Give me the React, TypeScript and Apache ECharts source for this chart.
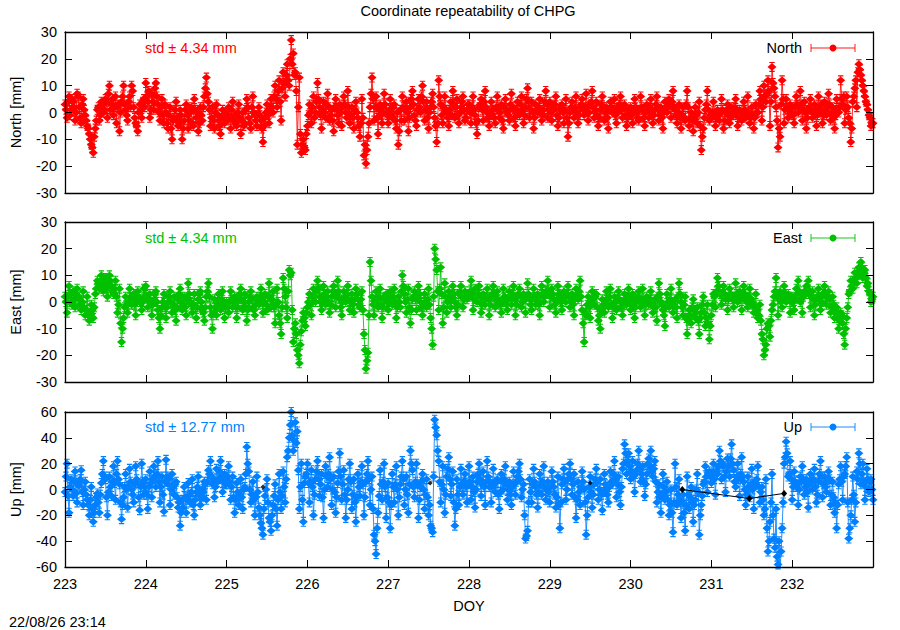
import React, { useEffect, useRef } from "react";
import * as echarts from "echarts";

// Sampling grid of the series (day of year). A-arrays sit on DOY_START + i*STEP,
// B-arrays on the half steps in between.
const DOY_START = 223;
const DOY_STEP = 0.025;
const X_MIN = 223;
const X_MAX = 233;

const TITLE = "Coordinate repeatability of CHPG";
const TIMESTAMP = "22/08/26 23:14";
const PANEL_NAMES = ["North", "East", "Up"];
const Y_NAMES = ["North [mm]", "East [mm]", "Up [mm]"];
const STD_TEXTS = ["std \u00b1 4.34 mm", "std \u00b1 4.34 mm", "std \u00b1 12.77 mm"];
const Y_RANGES = [
  [-30, 30, 10],
  [-30, 30, 10],
  [-60, 60, 20],
];

// North [mm]
const NORTH_A: number[] = [
  3, -2, 6, 1, 4, -3, 7, 2, -4, 5, -1, -5, -8, -12, -15, -6, 1, -3, 4, 0,
  5, -2, 10, 3, -1, 6, 2, -7, 4, 10, 1, -3, 6, 10, 2, -4, -7, 3, -2, 5,
  11, 4, -2, 7, 1, 11, 3, -3, 5, -4, 0, -6, 2, -10, -2, 4, -5, 1, -10, -3,
  3, -6, 0, -4, 5, -2, -7, 2, -3, 6, 13, 4, -5, 2, -6, 3, -3, -8, 1, -4,
  -3, 2, -6, 4, -1, -5, 3, -8, 0, -4, 5, -2, -6, 6, -1, -5, 2, -3, -11, -2,
  3, -4, 5, 0, 10, 2, 12, -3, 15, 6, 18, 10, 27, 22, 15, -12, 13, -15, -10, -14,
  -5, 3, -4, 6, 0, 11, 2, -6, 4, -2, 7, -3, 1, -7, 5, -1, 3, -5, 6, 0,
  8, -4, 2, -6, 4, -2, -9, 5, -16, -19, -9, 2, 13, -3, 6, -8, 3, -4, 7, 0,
  -4, 5, -2, 3, -6, -12, 1, 6, -3, 4, -7, 2, 8, -1, -5, 5, 0, 10, -3, 4,
  -6, 2, 7, -2, -11, 12, 3, -4, 6, 0, -5, 4, 8, -2, 5, -4, 2, 6, -3, 1,
  3, -4, 6, -1, -8, 2, 5, -3, 8, 0, -5, 4, 1, -4, 6, -2, 3, -6, 5, 0,
  -3, 7, 1, -5, 4, -1, 6, -4, 2, 9, -2, 4, -6, 3, 0, 5, -3, 1, 8, -2,
  4, -3, 2, 6, -5, 1, 3, -4, 5, -9, 0, 4, -2, 6, -4, 2, 5, -1, 7, -3,
  3, 8, -2, 4, -5, 1, 6, -3, 2, -6, 4, 0, 5, -4, 2, 6, -2, 3, -5, 1,
  2, -4, 5, 0, -3, 6, 1, -5, 3, -2, 5, -4, 1, 6, -3, 2, -6, 4, 0, 5,
  -2, 8, 1, -4, 3, -6, 2, -3, 8, -5, 0, -7, 2, -4, 4, -14, -6, 1, 8, -3,
  -2, 4, -5, 1, -3, 5, -6, 0, 3, -4, 2, -1, 5, -5, 1, -3, 4, -2, 6, -4,
  2, -6, 3, 0, 8, -3, 10, 4, 12, -5, 17, 9, 2, -13, -9, 12, -4, 5, -2, 3,
  2, -4, 6, 0, 8, -3, 4, -6, 1, 5, -2, 3, -5, 6, 0, -4, 4, -1, 7, -3,
  2, -6, 5, 0, 12, 3, -4, 6, -2, -11, 4, 9, 2, 18, 14, 10, 6, 3, -1, -5,
  -4,
];
const NORTH_B: number[] = [
  1, 4, -1, 5, 2, 0, 6, -2, 3, 1, -3, -6, -10, -13, -9, -3, 2, -1, 3, 1,
  4, 7, 1, 5, 2, -4, 3, 0, 6, 3, -1, 4, 2, 8, -2, -5, 0, 1, 4, 2,
  6, 8, 1, 4, 9, 6, 0, 2, -1, 3, -4, -1, -6, -3, 1, -2, -4, -1, -6, 1,
  -1, -3, 2, -5, 1, 0, -4, -1, 2, 9, 7, 1, -2, -3, 0, -1, -5, -2, -1, 0,
  -1, -2, 1, -3, -4, 0, -2, -3, -5, 1, 2, -4, 2, 0, -3, -1, -1, -6, -5, 0,
  -1, 1, 2, 6, 5, 8, 4, 9, 11, 14, 12, 20, 18, 14, 8, 2, -8, -12, -13, -8,
  -1, 0, 2, -2, 4, 5, -1, 1, 0, 3, 2, -1, -3, 2, 1, -4, 0, 2, 3, -2,
  2, -1, -2, 1, 0, -5, -4, -2, -12, -14, -4, 7, 5, 2, -2, 1, -1, 2, 3, -1,
  1, -1, 2, -3, 0, -7, -3, 2, 1, 0, -2, 5, 3, -3, 1, 2, 6, 4, 1, -2,
  0, 4, 2, -5, -4, 6, -1, 2, 1, -2, 1, -1, 3, 2, -1, 0, 4, 1, -2, 3,
  0, 2, 1, -4, -3, 3, 1, 4, 2, -2, -1, 1, -2, 2, 1, 0, -3, 2, 1, -1,
  3, 2, -2, 1, 0, 3, 1, -1, 5, 4, 1, 0, -2, 1, 2, 0, -1, 4, 3, 1,
  0, 1, 3, -1, -2, 2, 0, 1, -2, -4, 2, 1, 2, 0, -1, 3, 1, 2, 2, 0,
  4, 2, 1, -1, -2, 3, 2, 0, -2, 1, 2, 1, -1, 0, 3, 1, 2, -1, -2, 0,
  -1, 1, 2, -2, 1, 2, -2, 0, 1, 2, 0, -1, 3, 1, -1, -2, 0, 1, 2, 3,
  4, 2, -1, 0, -2, -1, -2, 3, 2, -2, -3, -2, -1, 0, -5, -9, -2, 3, 1, -1,
  0, -1, -2, -1, 0, 1, -3, 1, -1, -2, 0, 2, 0, -2, -2, 0, 1, -1, 0, -2,
  -1, -2, 0, 3, 5, 2, 6, 7, 8, 4, 11, 6, -3, -6, 3, 5, 1, 2, 1, 0,
  -1, 2, 3, 2, 3, 1, 0, -2, 2, 1, 0, 1, -1, 2, 3, -1, 1, 2, 3, 0,
  -2, -1, 1, 2, 5, 6, 1, 2, -4, -6, 6, 12, 15, 16, 12, 8, 4, 1, -2, -4,
];

// East [mm]
const EAST_A: number[] = [
  2, -4, 6, 0, 4, -2, 5, 1, -3, 4, -5, 2, -7, -1, -6, 3, 8, 5, 10, 4,
  9, 2, 10, 6, 3, 8, -4, 5, -15, -6, 2, -4, 5, -1, 3, -5, 4, 0, -3, 5,
  6, -2, 3, -5, 1, 4, -3, -10, -2, 3, -6, 0, 4, -4, 2, -7, 1, 5, -3, 2,
  -5, 7, 0, -4, 3, -6, 1, 4, -3, -7, 2, 7, -2, -10, 1, -5, 3, -3, 4, -6,
  0, -4, 4, -2, 2, -6, 1, 5, -3, 3, -7, 0, 4, -2, -5, 2, -1, 5, -4, 3,
  -3, 7, -2, 4, -8, 5, -5, -12, 9, 2, -6, 12, 11, -15, -8, -18, -23, -11, -4, -9,
  -2, 3, -5, 5, 0, 8, 2, -3, 6, -1, 4, -4, 2, 6, -2, 8, 1, -5, 4, 0,
  6, -3, 3, -4, 5, 1, -2, 4, -12, -25, -19, 15, 2, -5, 4, -2, 5, -6, 1, 3,
  -3, 4, -1, 5, -6, 2, -2, 10, 3, -4, 5, -8, 1, 4, -3, 6, 0, -5, 3, -2,
  5, -6, -16, 20, 12, -3, 13, -8, 7, -4, 4, -2, 6, 0, -5, 3, 6, -2, 4, 1,
  2, 8, -3, 5, 0, 6, -4, 3, -1, 5, -5, 2, 6, -2, 4, 0, -4, 5, 1, -3,
  4, -1, 6, -5, 2, 5, -2, 3, -4, 7, 1, -3, 5, -1, 3, -5, 6, 0, 4, 8,
  -2, 5, 1, -4, 6, 2, -3, 4, 0, 6, -2, 3, -5, 5, 1, 8, -3, -15, -5, 2,
  -6, 4, -1, 3, -7, -10, 1, -4, 4, -2, 5, -6, 2, -3, 4, 0, -5, 3, -1, 5,
  -3, 3, -6, 1, 4, -2, 5, -5, 2, -1, 4, -4, 1, -7, 7, 0, -3, -9, 3, -2,
  5, -4, 1, -6, 7, 0, -5, 2, -12, -3, -8, 1, -6, -2, -12, -4, 2, -9, -1, -14,
  -5, 3, -2, 9, 4, -1, 6, 1, -3, 5, 2, -2, 7, 0, 4, -3, 6, 1, -2, 5,
  0, -4, 3, -6, -1, -12, -20, -16, -8, -13, -3, 2, 9, -5, 4, -2, 6, 0, 3, -4,
  2, -3, 5, 8, 0, -4, 3, 6, 8, -2, 4, -5, 1, 5, -3, 3, 6, -1, 4, -4,
  2, -6, -2, -10, -4, -8, -16, -6, 3, 8, 5, 11, 7, 13, 15, 9, 12, 6, 4, 0,
  2,
];
const EAST_B: number[] = [
  0, 2, 3, -1, 1, 3, 2, -1, 0, -2, -3, -5, -4, -3, -2, 5, 7, 8, 6, 7,
  5, 7, 8, 4, 5, 2, -1, -8, -10, -2, -1, 0, 2, 1, -1, 1, 2, 1, 0, 2,
  2, 1, 0, -1, 3, 0, -6, -5, 0, -2, -2, 2, 0, -1, -3, -2, 3, 0, -1, -2,
  1, 3, -1, -1, -2, -2, 3, 0, -4, -2, 4, 2, -5, -4, -2, 0, 0, 1, -1, -2,
  -2, 0, 1, 0, -2, -2, 3, 1, 0, -2, -3, 2, 1, -3, -1, 0, 2, 1, 0, -1,
  2, 2, 1, -2, -1, 0, -8, -2, 5, -2, 4, 10, -3, -10, -12, -20, -16, -7, -6, -4,
  0, -1, 0, 2, 4, 5, 0, 1, 3, 2, 0, -1, 4, 2, 3, 4, -2, 0, 2, 3,
  1, 0, -1, 1, 3, -1, 1, -3, -18, -22, -5, 8, -1, 0, 1, 2, -1, -2, 2, 0,
  0, 1, 2, 0, -2, 0, 4, 6, 0, 1, -2, -3, 2, 1, 2, 3, -2, -1, 0, 1,
  -1, -10, 2, 16, 4, 5, 3, -2, 2, 0, 1, 2, 3, -2, -1, 4, 2, 1, 2, 3,
  4, 3, 1, 2, 3, 2, -1, 1, 2, 1, -1, 3, 2, 1, 1, -1, 0, 2, -1, 1,
  2, 3, 1, -1, 3, 2, 0, 1, 2, 3, -1, 1, 2, 1, -1, 2, 3, 2, 4, 3,
  2, 3, -1, 1, 3, 0, 1, 2, 3, 2, 0, -1, 1, 2, 4, 2, -8, -4, -1, -2,
  0, 1, 2, -2, -5, -3, -1, 0, 1, 2, -1, -2, 0, 1, 1, -2, -1, 1, 2, 0,
  0, -1, -2, 2, 0, 1, 0, -1, 0, 1, 0, -2, -2, 2, 3, -1, -5, -2, 0, 1,
  0, -1, -2, 2, 3, -2, -1, -6, -7, -5, -2, -3, -4, -7, -6, -1, -4, -6, -8, -9,
  -1, 2, 4, 6, 3, 2, 3, 2, 1, 3, 1, 2, 3, 2, 1, 2, 3, 0, 2, 1,
  -1, -2, -3, -5, -7, -14, -18, -10, -9, -7, -1, 4, 3, 1, 0, 2, 3, 1, 2, 0,
  0, 1, 3, 4, 1, 2, 4, 5, 3, 2, 1, -1, 2, 1, 0, 3, 2, 2, 1, -2,
  -1, -3, -6, -7, -5, -12, -10, -2, 4, 6, 8, 9, 10, 12, 13, 11, 9, 7, 3, 1,
];

// Up [mm]
const UP_A: number[] = [
  -2, 20, -18, 8, -5, 14, -10, 3, 15, -12, 6, -8, -20, 2, -25, -12, -3, -18, 5, 22,
  8, -20, 10, -5, 18, -8, 22, 4, -23, -6, 12, -14, 16, 0, -10, 18, 5, -16, 20, -4,
  8, -15, 14, -6, 18, 2, 22, -10, 10, -17, 23, 4, -12, 12, -4, 6, -14, -28, -8, 2,
  -18, 5, -10, 8, -20, -2, 10, -12, 0, 6, -8, 15, 22, 4, -6, 16, 8, 22, -2, 12,
  4, 18, -8, 10, -18, 5, -12, 8, -15, 2, 33, 14, -10, 6, -20, 10, -14, -26, -35, -5,
  8, -22, -32, -12, 4, -28, 12, -15, 14, -10, 25, 40, 60, 30, 52, 45, -15, 20, -25, 10,
  20, -10, 15, -20, 8, 22, -5, 12, -22, 18, 2, 25, -12, 10, -18, 5, 28, -8, 15, -22,
  0, 20, -15, 8, -25, 12, -5, 18, -20, 6, 22, -12, 10, -35, -50, -18, 15, -8, 20, -22,
  5, -30, 12, -10, 18, -20, 4, 22, -12, 10, -18, 30, 15, -6, 20, -22, 2, 12, -15, 8,
  -20, -28, -33, 54, 42, 22, -10, 18, -18, 10, 25, -5, 14, -28, 8, -12, 16, -4, 12, -10,
  18, -8, 10, -14, 6, 20, -5, 14, -12, 22, 2, -10, 16, -2, 8, -15, 12, 0, 18, -8,
  6, -12, 14, -4, 10, 20, -6, 4, -38, -32, 8, -10, 16, 2, -14, 12, -4, 18, -8, 6,
  -10, 14, 2, -14, 10, -30, 4, 16, -8, 8, 20, -4, 12, -22, 6, -12, 14, 0, -35, -6,
  10, -14, 4, 16, -8, 8, -16, 12, 0, -10, 14, 4, 22, -6, 10, -12, 16, 35, 12, 28,
  8, 22, -2, 15, 30, 6, 18, -5, 12, 24, 30, 10, 22, -10, 4, -18, 12, -8, 6, -20,
  0, -33, 20, -12, 8, -22, -4, -32, 10, -15, 2, -25, -8, 12, -35, -12, 4, 18, -2, 14,
  5, 20, -4, 12, 30, 8, 18, -2, 24, 10, 35, 15, 2, 20, -5, 25, 6, -12, 10, -6,
  16, -15, 4, 18, -10, 2, -20, 8, -48, -25, 12, -38, -15, -58, -64, -30, 20, 37, 10, 22,
  -8, 14, 2, -12, 10, 18, -4, 8, -14, 12, 0, 16, -10, 6, 22, -6, 10, -2, 14, -12,
  6, -18, -30, 4, 18, -8, 12, 25, -38, -20, 10, -25, 14, 28, 4, 20, -8, 16, -2, 8,
  -8,
];
const UP_B: number[] = [
  10, -5, 2, 0, 6, -3, 5, 8, -2, 0, -4, -12, -8, -15, -18, -6, -10, -4, 12, 10,
  -6, -2, 2, 6, 5, 12, 8, -10, -12, 2, 0, 3, 6, -4, 4, 8, -6, 2, 6, 2,
  -4, 2, 5, 8, 10, 12, 6, 2, -4, 6, 10, 8, 0, 2, 4, -6, -10, -18, -14, -6,
  -8, -4, -2, -12, -8, 2, -4, -6, -2, 4, 6, 12, 10, 8, 2, 6, 14, 10, 6, 4,
  10, 6, 2, -6, -8, -2, -4, -6, 0, 12, 20, 0, -4, -8, -6, -2, -20, -30, -15, 0,
  -10, -25, -20, -5, -15, -8, -2, -5, 2, 8, 30, 50, 42, 38, 36, 15, 2, -8, 5, 12,
  5, 6, 2, -4, 14, 8, 4, -6, 0, 10, 12, 8, 0, -2, -6, 14, 10, 4, -4, -8,
  8, 6, -4, -10, -6, 2, 6, 4, -6, 12, 8, 0, -15, -40, -30, -5, 4, 6, 2, -6,
  -10, -12, 2, 4, 0, -6, 10, 8, 0, -4, 4, 20, 2, 6, 4, -8, 6, 0, -4, -6,
  -12, -30, 10, 48, 30, 6, 4, 0, -4, 16, 8, 4, -10, -15, -4, 2, 4, 6, 2, 4,
  6, 2, -2, 0, 12, 8, 4, 2, 6, 10, 6, 2, 4, 6, -4, -2, 6, 8, 4, 0,
  -4, 2, 4, 6, 14, 8, 0, -20, -36, -10, -2, 4, 6, -4, -2, 4, 6, 2, 0, -2,
  2, 6, -4, -6, -12, -10, 8, 6, 0, 12, 8, 4, -6, -8, -2, 2, 6, -10, -20, 2,
  -2, -4, 8, 6, 0, -4, -2, 4, -4, 2, 6, 12, 8, 4, -2, 2, 20, 28, 22, 18,
  14, 10, 12, 20, 16, 12, 6, 4, 20, 18, 14, 16, 6, -2, -6, -4, 2, -2, -8, -12,
  -18, -10, 2, -4, -8, -10, -18, -12, -4, -6, -10, -12, 0, -2, -20, -5, 6, 10, 12, 10,
  12, 8, 14, 18, 22, 20, 10, 14, 18, 24, 20, 6, 10, 8, 12, 10, 0, -4, 2, 4,
  0, 6, 8, 2, -2, -8, -15, -30, -40, -10, -20, -45, -52, -40, -48, -10, 25, 28, 12, 8,
  2, 6, 4, 0, 6, 8, 2, -2, 4, 6, 8, 2, -4, 12, 10, 4, 2, 6, 8, -4,
  -6, -10, -12, 8, 6, 10, 18, -10, -30, -8, -4, -10, 8, 20, 12, 6, 2, 8, 6, 0,
];

// black reference marks in the Up panel [DOY, mm]
const UP_BLACK_LINE_DOY = [230.64, 231.47, 231.9];
const UP_BLACK_LINE_VAL = [0, -7, -3];
const UP_BLACK_DOT_DOY = [225.45, 227.52, 229.5];
const UP_BLACK_DOT_VAL = [2, 5, 5];

const COLORS = ["#ff0000", "#00c000", "#0080ff"];
const LIGHT = ["rgba(255,0,0,0.6)", "rgba(0,192,0,0.6)", "rgba(0,128,255,0.6)"];
const FONT = '"Liberation Sans", Arial, Helvetica, sans-serif';
const FS = 14.5;

const GRIDS = [
  { left: 64, top: 32, width: 809, height: 161 },
  { left: 64, top: 222, width: 809, height: 160 },
  { left: 64, top: 412, width: 809, height: 155 },
];

// filled diamond with small error-bar caps above and below
const SYMBOL =
  "path://M5,1.2 L10,5.5 L5,9.8 L0,5.5 Z M2,0 L8,0 L8,1.2 L2,1.2 Z M2,9.8 L8,9.8 L8,11 L2,11 Z M4.5,0 L5.5,0 L5.5,11 L4.5,11 Z";

function merge(a: number[], b: number[]): [number, number][] {
  const out: [number, number][] = [];
  a.forEach((v, i) => {
    out.push([+(DOY_START + i * DOY_STEP).toFixed(4), v]);
    if (i < b.length) out.push([+(DOY_START + (i + 0.5) * DOY_STEP).toFixed(4), b[i]]);
  });
  return out;
}

export default function App() {
  const ref = useRef<HTMLDivElement>(null);
  useEffect(() => {
    if (!ref.current) return;
    const chart = echarts.init(ref.current, undefined, { renderer: "svg" });
    const seriesData = [merge(NORTH_A, NORTH_B), merge(EAST_A, EAST_B), merge(UP_A, UP_B)];

    const xAxes: any[] = [];
    const yAxes: any[] = [];
    GRIDS.forEach((_, g) => {
      const isBottom = g === 2;
      ["bottom", "top"].forEach((pos, k) => {
        xAxes.push({
          type: "value",
          gridIndex: g,
          position: pos,
          min: X_MIN,
          max: X_MAX,
          interval: 1,
          axisLine: { show: true, onZero: false, lineStyle: { color: "#000", width: 1.3 } },
          axisTick: { show: true, inside: true, length: 7, lineStyle: { color: "#000", width: 1 } },
          axisLabel: {
            show: isBottom && k === 0,
            color: "#000",
            fontSize: FS,
            fontFamily: FONT,
            margin: 9,
            showMaxLabel: false,
          },
          splitLine: { show: false },
          name: isBottom && k === 0 ? "DOY" : "",
          nameLocation: "middle",
          nameGap: 31,
          nameTextStyle: { color: "#000", fontSize: FS, fontFamily: FONT },
          z: 10,
        });
      });
      const [ymin, ymax, yint] = Y_RANGES[g];
      ["left", "right"].forEach((pos, k) => {
        yAxes.push({
          type: "value",
          gridIndex: g,
          position: pos,
          min: ymin,
          max: ymax,
          interval: yint,
          axisLine: { show: true, onZero: false, lineStyle: { color: "#000", width: 1.3 } },
          axisTick: { show: true, inside: true, length: 7, lineStyle: { color: "#000", width: 1 } },
          axisLabel: {
            show: k === 0,
            color: "#000",
            fontSize: FS,
            fontFamily: FONT,
            margin: 8,
            showMinLabel: true,
            showMaxLabel: true,
          },
          splitLine: { show: false },
          name: k === 0 ? Y_NAMES[g] : "",
          nameLocation: "middle",
          nameGap: 42,
          nameTextStyle: { color: "#000", fontSize: FS, fontFamily: FONT },
          z: 10,
        });
      });
    });

    const series: any[] = seriesData.map((data, g) => ({
      type: "line",
      name: PANEL_NAMES[g],
      xAxisIndex: g * 2,
      yAxisIndex: g * 2,
      data,
      symbol: SYMBOL,
      symbolSize: [9, 10],
      showSymbol: true,
      showAllSymbol: true,
      clip: true,
      lineStyle: { color: COLORS[g], width: 1, opacity: 0.85 },
      itemStyle: { color: COLORS[g] },
      emphasis: { disabled: true },
      z: 2,
    }));
    series.push({
      type: "line",
      name: "ref-line",
      xAxisIndex: 4,
      yAxisIndex: 4,
      data: UP_BLACK_LINE_DOY.map((d, i) => [d, UP_BLACK_LINE_VAL[i]]),
      symbol: "diamond",
      symbolSize: [6, 7],
      showAllSymbol: true,
      lineStyle: { color: "#000", width: 1 },
      itemStyle: { color: "#000" },
      z: 3,
    });
    series.push({
      type: "scatter",
      name: "ref-dots",
      xAxisIndex: 4,
      yAxisIndex: 4,
      data: UP_BLACK_DOT_DOY.map((d, i) => [d, UP_BLACK_DOT_VAL[i]]),
      symbol: "diamond",
      symbolSize: [5, 5],
      itemStyle: { color: "#000" },
      z: 3,
    });

    const graphics: any[] = [
      {
        type: "text",
        x: 468,
        y: 11,
        style: {
          text: TITLE,
          fill: "#000",
          fontSize: FS,
          fontFamily: FONT,
          align: "center",
          verticalAlign: "middle",
        },
      },
      {
        type: "text",
        x: 9,
        y: 622,
        style: {
          text: TIMESTAMP,
          fill: "#000",
          fontSize: FS,
          fontFamily: FONT,
          align: "left",
          verticalAlign: "middle",
        },
      },
    ];
    const legendY = [48, 238, 427];
    GRIDS.forEach((_, g) => {
      const y = legendY[g];
      graphics.push({
        type: "text",
        x: 145,
        y,
        z: 100,
        style: {
          text: STD_TEXTS[g],
          fill: COLORS[g],
          fontSize: FS,
          fontFamily: FONT,
          align: "left",
          verticalAlign: "middle",
        },
      });
      graphics.push({
        type: "text",
        x: 802,
        y,
        z: 100,
        style: {
          text: PANEL_NAMES[g],
          fill: "#000",
          fontSize: FS,
          fontFamily: FONT,
          align: "right",
          verticalAlign: "middle",
        },
      });
      graphics.push({
        type: "line",
        z: 100,
        shape: { x1: 811, y1: y, x2: 855, y2: y },
        style: { stroke: LIGHT[g], lineWidth: 1.5 },
      });
      graphics.push({
        type: "line",
        z: 100,
        shape: { x1: 811, y1: y - 4, x2: 811, y2: y + 4 },
        style: { stroke: LIGHT[g], lineWidth: 1.5 },
      });
      graphics.push({
        type: "line",
        z: 100,
        shape: { x1: 855, y1: y - 4, x2: 855, y2: y + 4 },
        style: { stroke: LIGHT[g], lineWidth: 1.5 },
      });
      graphics.push({
        type: "circle",
        z: 100,
        shape: { cx: 833, cy: y, r: 3.5 },
        style: { fill: COLORS[g] },
      });
    });

    chart.setOption({
      animation: false,
      backgroundColor: "#fff",
      grid: GRIDS.map((g) => ({ ...g, containLabel: false })),
      xAxis: xAxes,
      yAxis: yAxes,
      series,
      graphic: graphics,
    });
    return () => chart.dispose();
  }, []);

  return (
    <div
      ref={ref}
      style={{ position: "absolute", left: 0, top: 0, width: 900, height: 630 }}
    />
  );
}
